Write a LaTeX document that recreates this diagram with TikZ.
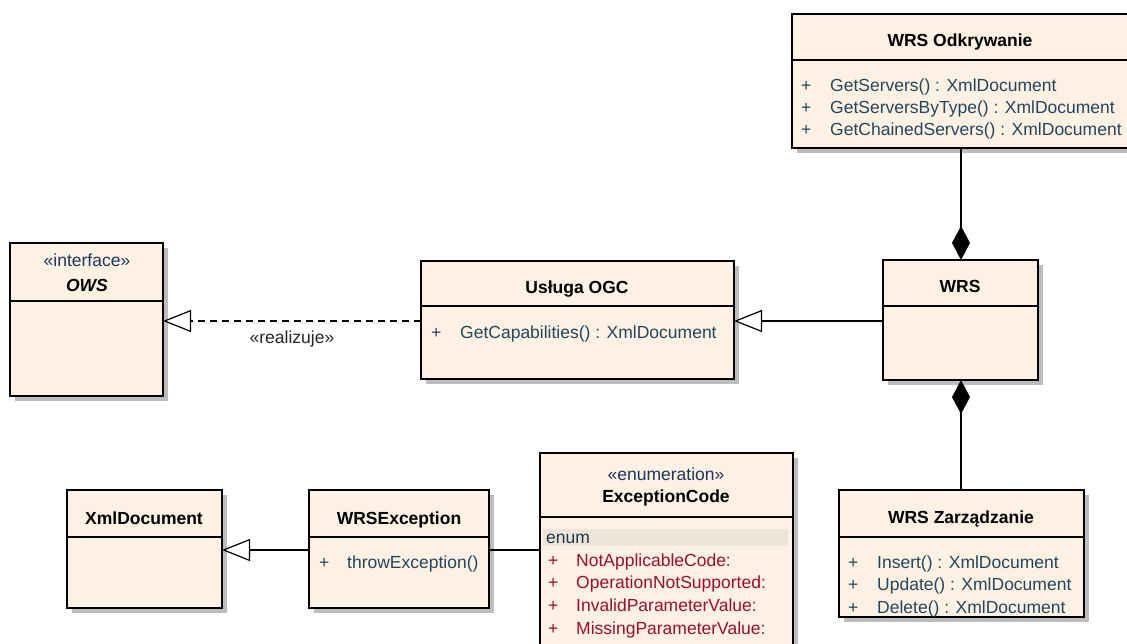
\documentclass[tikz,border=0pt]{standalone}
\usepackage{fontspec}
\setmainfont{Liberation Sans}
\usetikzlibrary{arrows.meta,shadows}
\definecolor{boxfill}{HTML}{FCF1E2}
\definecolor{shadowgray}{HTML}{BDBDBD}
\definecolor{opcolor}{HTML}{23465E}
\definecolor{enumcolor}{HTML}{9A0F2E}
\definecolor{stereocolor}{HTML}{1E3560}
\definecolor{bandfill}{HTML}{EEE5DA}
\begin{document}
\begin{tikzpicture}[x=1pt,y=-1pt,
  font=\fontsize{17.5}{21}\selectfont,
  cls/.style={draw=black, line width=1.3pt, fill=boxfill, rectangle,
    inner sep=0pt, outer sep=0pt, anchor=north west,
    drop shadow={shadow xshift=5pt, shadow yshift=-5pt, fill=shadowgray, opacity=1}},
  divider/.style={draw=black, line width=1.1pt},
  title/.style={font=\fontsize{17.5}{21}\selectfont\bfseries, inner sep=0pt, anchor=base},
  stereo/.style={text=stereocolor, inner sep=0pt, anchor=base},
  op/.style={text=opcolor, anchor=base west, inner sep=0pt},
  lit/.style={text=enumcolor, anchor=base west, inner sep=0pt},
  conn/.style={draw=black, line width=1.2pt},
  gen/.style={conn, -{Triangle[open, length=28pt, width=22pt, fill=white, line width=1.2pt]}},
  real/.style={gen, dash pattern=on 7pt off 5pt},
  comp/.style={conn, {Diamond[length=34pt, width=18pt, fill=black]}-},
]
\useasboundingbox (0,0) rectangle (1127,644);

% ---- class boxes ----
\node[cls, minimum width=340pt, minimum height=134pt] (odk) at (792,14) {};
\node[cls, minimum width=153pt, minimum height=153pt] (ows) at (10,243) {};
\node[cls, minimum width=313pt, minimum height=118pt] (ogc) at (421,261) {};
\node[cls, minimum width=155pt, minimum height=120pt] (wrs) at (883,260) {};
\node[cls, minimum width=245pt, minimum height=127pt] (zarz) at (839,490) {};
\node[cls, minimum width=155pt, minimum height=118pt] (xml) at (67,490) {};
\node[cls, minimum width=180pt, minimum height=118pt] (exc) at (309,490) {};
\node[cls, minimum width=253pt, minimum height=200pt] (enum) at (540,453) {};

% ---- compartment dividers ----
\draw[divider] (792,60) -- (1132,60);
\draw[divider] (10,301) -- (163,301);
\draw[divider] (421,306) -- (734,306);
\draw[divider] (883,306) -- (1038,306);
\draw[divider] (839,537) -- (1084,537);
\draw[divider] (67,537) -- (222,537);
\draw[divider] (309,537) -- (489,537);
\draw[divider] (540,517) -- (793,517);

% ---- WRS Odkrywanie ----
\node[title] (odkT) at (960,47) {WRS Odkrywanie};
\node[op] (odkP1) at (801,92) {+};
\node[op] (odkA1) at (830,92) {GetServers() : XmlDocument};
\node[op] (odkP2) at (801,114) {+};
\node[op] (odkA2) at (830,114) {GetServersByType() : XmlDocument};
\node[op] (odkP3) at (801,136) {+};
\node[op] (odkA3) at (830,136) {GetChainedServers() : XmlDocument};

% ---- OWS interface ----
\node[stereo] (owsS) at (87,267) {«interface»};
\node[title, font=\fontsize{17.5}{21}\selectfont\bfseries\itshape] (owsT) at (87,292) {OWS};

% ---- Usługa OGC ----
\node[title] (ogcT) at (577,294) {Usługa OGC};
\node[op] (ogcP1) at (431,338) {+};
\node[op] (ogcA1) at (460,338) {GetCapabilities() : XmlDocument};

% ---- WRS ----
\node[title] (wrsT) at (960,293) {WRS};

% ---- WRS Zarządzanie ----
\node[title] (zarzT) at (961,523) {WRS Zarządzanie};
\node[op] (zarzP1) at (848,568) {+};
\node[op] (zarzA1) at (877,568) {Insert() : XmlDocument};
\node[op] (zarzP2) at (848,590) {+};
\node[op] (zarzA2) at (877,590) {Update() : XmlDocument};
\node[op] (zarzP3) at (848,613) {+};
\node[op] (zarzA3) at (877,613) {Delete() : XmlDocument};

% ---- XmlDocument ----
\node[title] (xmlT) at (144,524) {XmlDocument};

% ---- WRSException ----
\node[title] (excT) at (399,524) {WRSException};
\node[op] (excP1) at (319,568) {+};
\node[op] (excA1) at (347,568) {throwException()};

% ---- ExceptionCode enumeration ----
\node[stereo] (enumS) at (666,480) {«enumeration»};
\node[title] (enumT) at (666,502) {ExceptionCode};
\fill[bandfill] (543,529) rectangle (788,546);
\node[op, text=opcolor!80!black] (enumK) at (546,543) {enum};
\node[lit] (enumP1) at (548,566) {+};
\node[lit] (enumL1) at (576,566) {NotApplicableCode:};
\node[lit] (enumP2) at (548,588) {+};
\node[lit] (enumL2) at (576,588) {OperationNotSupported:};
\node[lit] (enumP3) at (548,611) {+};
\node[lit] (enumL3) at (576,611) {InvalidParameterValue:};
\node[lit] (enumP4) at (548,634) {+};
\node[lit] (enumL4) at (576,634) {MissingParameterValue:};

% ---- connectors ----
\draw[real] (ogc.west |- 0,321) -- (ows.east |- 0,321)
  node[pos=0.5, below=9pt, stereo, anchor=north, text=black!85] (realL) {«realizuje»};
\draw[gen] (wrs.west |- 0,321) -- (ogc.east |- 0,321);
\draw[gen] (exc.west |- 0,550) -- (xml.east |- 0,550);
\draw[conn] (exc.east |- 0,550) -- (enum.west |- 0,550);
\draw[comp] (wrs.north -| 961,0) -- (odk.south -| 961,0);
\draw[comp] (wrs.south -| 961,0) -- (zarz.north -| 961,0);
\end{tikzpicture}
\end{document}
